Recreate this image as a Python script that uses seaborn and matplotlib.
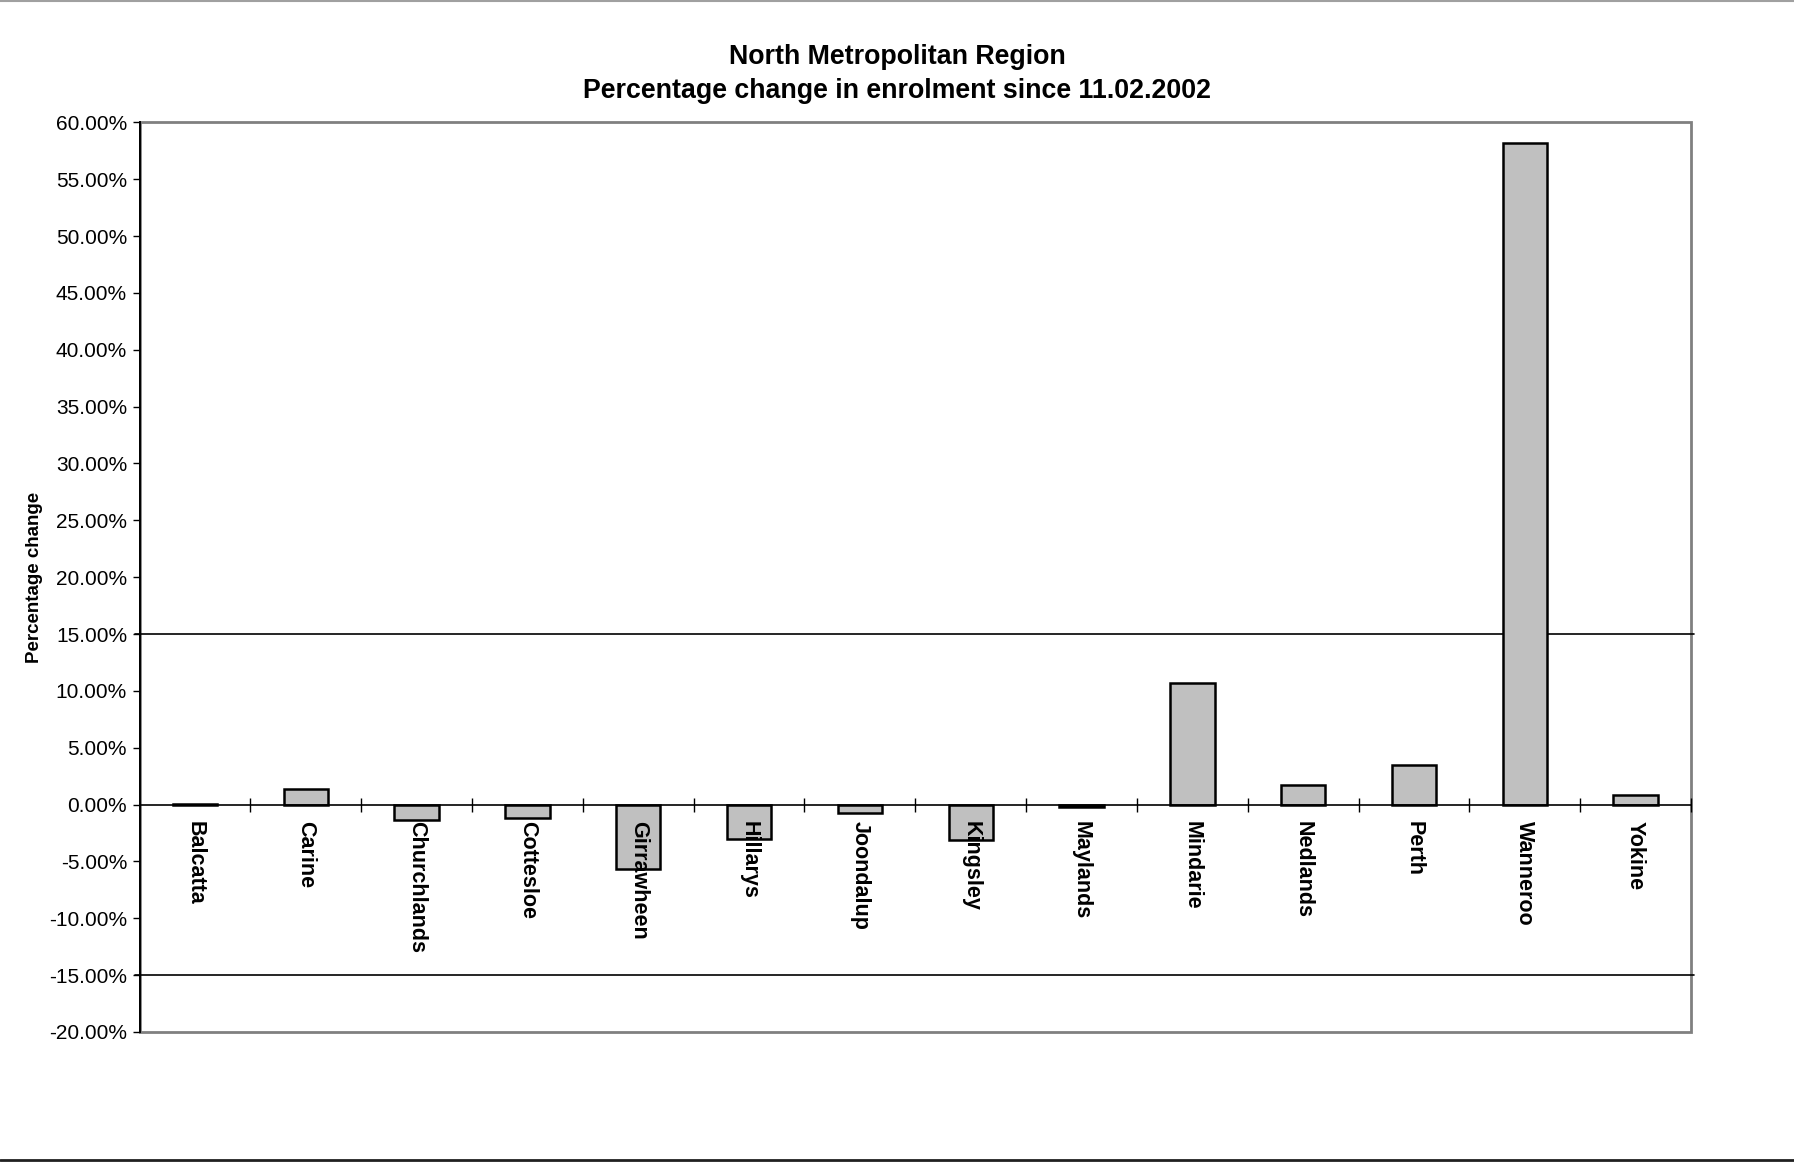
import matplotlib
matplotlib.use("Agg")
import matplotlib.pyplot as plt
import seaborn as sns
import pandas as pd
from matplotlib.ticker import PercentFormatter, FixedLocator
from matplotlib.patches import Rectangle
from matplotlib.lines import Line2D

schools = ["Balcatta", "Carine", "Churchlands", "Cottesloe", "Girrawheen", "Hillarys",
           "Joondalup", "Kingsley", "Maylands", "Mindarie", "Nedlands", "Perth",
           "Wanneroo", "Yokine"]
pct_change = [0.05, 1.41, -1.4, -1.18, -5.65, -3.0, -0.74, -3.1, -0.25, 10.7, 1.73, 3.46, 58.2, 0.88]
y_ticks = [-20, -15, -10, -5, 0, 5, 10, 15, 20, 25, 30, 35, 40, 45, 50, 55, 60]
ref_lines = [15, -15]

df = pd.DataFrame({"School": schools, "Change": pct_change})

sns.set_style("white")
plt.rcParams["font.family"] = ["Liberation Sans", "DejaVu Sans"]
plt.rcParams["axes.unicode_minus"] = False
for k in ["text.color", "axes.labelcolor", "xtick.color", "ytick.color"]:
    plt.rcParams[k] = "black"

fig = plt.figure(figsize=(17.94, 11.62), dpi=100)
ax = fig.add_axes([0.0778, 0.1119, 0.9426 - 0.0778, 0.8947 - 0.1119])

sns.barplot(data=df, x="School", y="Change", color="#C0C0C0", saturation=1,
            edgecolor="black", linewidth=1.8, width=0.4, ax=ax, zorder=2)

for v in ref_lines:
    ax.axhline(v, xmin=-0.003, xmax=1.002, color="black", lw=1.2, zorder=1.8, clip_on=False)

ax.set_axisbelow(False)
ax.set_ylim(-20, 60)
ax.set_xlim(-0.5, len(schools) - 0.5)
ax.yaxis.set_major_locator(FixedLocator(y_ticks))
ax.yaxis.set_major_formatter(PercentFormatter(decimals=2))
ax.tick_params(axis="y", direction="out", length=5, width=1, color="black",
               labelsize=15, pad=4, left=True)

# x axis on zero line
ax.spines["bottom"].set_position(("data", 0))
ax.spines["bottom"].set_color("black")
ax.spines["bottom"].set_linewidth(1.2)
ax.spines["left"].set_color("black")
ax.spines["left"].set_linewidth(1.4)
ax.spines["top"].set_visible(False)
ax.spines["right"].set_visible(False)

ax.set_xticks(range(len(schools)))
ax.set_xticklabels(schools, rotation=-90, fontweight="bold", fontsize=15.5, va="top", ha="center")
ax.set_xticks([i + 0.5 for i in range(len(schools))], minor=True)
ax.tick_params(axis="x", which="major", length=0, pad=12, bottom=True)
ax.tick_params(axis="x", which="minor", length=10, direction="inout", width=1, color="black", bottom=True)

ax.set_xlabel("")
ax.set_ylabel("Percentage change", fontsize=13.5, fontweight="bold")
ax.yaxis.set_label_coords(-0.062, 0.5)

# frame (grey top/right/bottom)
frame = Rectangle((0, 0), 1, 1, transform=ax.transAxes, fill=False,
                  edgecolor="#808080", lw=2, zorder=1, clip_on=False)
ax.add_patch(frame)

fig.text(0.5, 0.951, "North Metropolitan Region", ha="center", va="center",
         fontsize=19.3, fontweight="bold")
fig.text(0.5, 0.922, "Percentage change in enrolment since 11.02.2002", ha="center",
         va="center", fontsize=19.3, fontweight="bold")

fig.add_artist(Line2D([0, 1], [0.9995, 0.9995], color="#A0A0A0", lw=1.5, transform=fig.transFigure))
fig.add_artist(Line2D([0, 1], [0.0015, 0.0015], color="#202020", lw=2, transform=fig.transFigure))

fig.savefig("out.png", dpi=100, facecolor="white")
